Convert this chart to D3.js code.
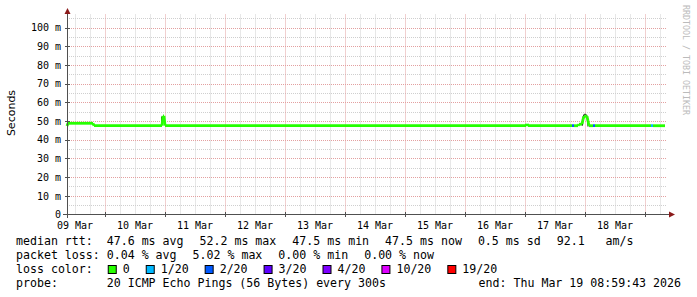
<!DOCTYPE html>
<html>
<head>
<meta charset="utf-8">
<script src="https://cdn.jsdelivr.net/npm/d3@7/dist/d3.min.js"></script>
<style>
body { margin: 0; background: #fff; }
svg { display: block; }
text { font-family: "DejaVu Sans Mono", monospace; fill: #000; }
</style>
</head>
<body>
<svg width="697" height="297"></svg>
<script>
// median rtt (ms), breakpoints, times UTC
var rttTimes = [
  "2026-03-09 09:00", "2026-03-09 09:24", "2026-03-09 19:24", "2026-03-09 19:48",
  "2026-03-10 23:00", "2026-03-10 23:24", "2026-03-10 23:48", "2026-03-11 00:12",
  "2026-03-17 00:36", "2026-03-17 01:00", "2026-03-17 01:24",
  "2026-03-17 19:00", "2026-03-17 19:24", "2026-03-17 19:48",
  "2026-03-17 21:24", "2026-03-17 21:48", "2026-03-17 23:00", "2026-03-17 23:24",
  "2026-03-17 23:48", "2026-03-18 00:36", "2026-03-18 01:00", "2026-03-18 01:24",
  "2026-03-18 01:48", "2026-03-18 03:24", "2026-03-18 03:48", "2026-03-18 04:12",
  "2026-03-19 02:36", "2026-03-19 03:00", "2026-03-19 03:24", "2026-03-19 08:12"
];
var rttValues = [
  47.4, 48.8, 48.8, 47.5,
  47.5, 52.8, 52.8, 47.5,
  47.5, 48.4, 47.5,
  47.5, 47.5, 47.5,
  47.5, 48.3, 48.3, 51.0,
  52.5, 52.8, 52.5, 50.0,
  47.5, 47.5, 47.5, 47.5,
  47.5, 47.5, 47.5, 47.5
];
// lost pings out of 20 for each breakpoint
var rttLoss = [
  0, 0, 0, 0,
  0, 0, 0, 0,
  0, 0, 0,
  0, 2, 0,
  0, 0, 0, 0,
  0, 0, 0, 0,
  0, 0, 2, 0,
  0, 1, 0, 0
];

// dark smoke outline around the two spikes (null = gap)
var smokeTimes = [
  "2026-03-10 22:50", "2026-03-10 22:50", null,
  "2026-03-17 23:10", "2026-03-17 23:24", "2026-03-17 23:48",
  "2026-03-18 00:36", "2026-03-18 01:00", "2026-03-18 01:24"
];
var smokeValues = [
  47.5, 52.4, null,
  47.5, 52.2, 53.6,
  53.6, 52.6, 47.0
];

var yTicks = [0, 10, 20, 30, 40, 50, 60, 70, 80, 90, 100];
var dayLabels = ["2026-03-09", "2026-03-10", "2026-03-11", "2026-03-12", "2026-03-13",
  "2026-03-14", "2026-03-15", "2026-03-16", "2026-03-17", "2026-03-18"];

var rttStats = ["47.6 ms avg", "52.2 ms max", "47.5 ms min", "47.5 ms now", "0.5 ms sd", "92.1   am/s"];
var lossStats = ["0.04 % avg", "5.02 % max", "0.00 % min", "0.00 % now"];
var lossLabels = ["0", "1/20", "2/20", "3/20", "4/20", "10/20", "19/20"];
var lossColors = ["#26ff00", "#00b8ff", "#0059ff", "#5e00ff", "#7e00ff", "#dd00ff", "#ff0000"];
var lossSteps = [1, 2, 3, 4, 10, 19];

var parseT = d3.utcParse("%Y-%m-%d %H:%M");
var parseD = d3.utcParse("%Y-%m-%d");
var startT = new Date(Date.UTC(2026, 2, 9, 8, 59, 43));
var endT = new Date(Date.UTC(2026, 2, 19, 8, 59, 43));

var margin = {left: 67, top: 14.5, right: 30, bottom: 214.5};

var x = d3.scaleUtc().domain([startT, endT]).range([margin.left, margin.left + 600]);
var y = d3.scaleLinear().domain([0, 107]).range([margin.bottom, margin.top]);
var lossColor = d3.scaleThreshold().domain(lossSteps).range(lossColors);

var svg = d3.select('svg');

// grid
var minorX = d3.utcHour.every(6).range(startT, endT).filter(function(d) { return d.getUTCHours() != 0; });
var majorX = d3.utcDay.range(startT, endT);
var minorY = d3.range(5, 107, 10);

var grid = svg.append('g').attr('fill', 'none').attr('stroke-width', 1).attr('stroke-dasharray', '1,1');
grid.selectAll('.vmin').data(minorX).enter().append('line')
  .attr('x1', function(d) { return Math.round(x(d)) + 0.5; })
  .attr('x2', function(d) { return Math.round(x(d)) + 0.5; })
  .attr('y1', margin.top).attr('y2', margin.bottom)
  .attr('stroke', '#cfcfcf');
grid.selectAll('.hmin').data(minorY).enter().append('line')
  .attr('x1', margin.left).attr('x2', margin.left + 600)
  .attr('y1', function(d) { return Math.round(y(d)) + 0.5; })
  .attr('y2', function(d) { return Math.round(y(d)) + 0.5; })
  .attr('stroke', '#cfcfcf');
grid.selectAll('.vmaj').data(majorX).enter().append('line')
  .attr('x1', function(d) { return Math.round(x(d)) + 0.5; })
  .attr('x2', function(d) { return Math.round(x(d)) + 0.5; })
  .attr('y1', margin.top).attr('y2', margin.bottom)
  .attr('stroke', '#e3a0a0');
grid.selectAll('.hmaj').data(yTicks.slice(1)).enter().append('line')
  .attr('x1', margin.left).attr('x2', margin.left + 600)
  .attr('y1', function(d) { return Math.round(y(d)) + 0.5; })
  .attr('y2', function(d) { return Math.round(y(d)) + 0.5; })
  .attr('stroke', '#e3a0a0');

// smoke outline
var smokeLine = d3.line()
  .defined(function(d) { return d[0] != null; })
  .x(function(d) { return x(parseT(d[0])); })
  .y(function(d) { return y(d[1]); });
svg.append('path')
  .datum(smokeTimes.map(function(t, i) { return [t, smokeValues[i]]; }))
  .attr('d', smokeLine)
  .attr('fill', 'none').attr('stroke', '#222').attr('stroke-width', 1);

// median line, coloured by loss
var pts = rttTimes.map(function(t, i) { return {t: parseT(t), v: rttValues[i], loss: rttLoss[i]}; });
var segLine = d3.line().x(function(d) { return x(d.t); }).y(function(d) { return y(d.v); });
for (var i = 1; i < pts.length; i++) {
  svg.append('path')
    .attr('d', segLine([pts[i - 1], pts[i]]))
    .attr('fill', 'none')
    .attr('stroke', lossColor(Math.max(pts[i].loss, pts[i - 1].loss)))
    .attr('stroke-width', 2.8)
    .attr('stroke-linecap', 'butt');
}

// axes
var axis = svg.append('g').attr('stroke', '#505050').attr('stroke-width', 1);
axis.append('line').attr('x1', 63).attr('x2', 670).attr('y1', 214.5).attr('y2', 214.5);
axis.append('line').attr('x1', 67.5).attr('x2', 67.5).attr('y1', 10).attr('y2', 218);
axis.selectAll('.xt').data(majorX).enter().append('line')
  .attr('x1', function(d) { return Math.round(x(d)) + 0.5; })
  .attr('x2', function(d) { return Math.round(x(d)) + 0.5; })
  .attr('y1', 212).attr('y2', 217);
axis.selectAll('.yt').data(yTicks.slice(1)).enter().append('line')
  .attr('x1', 65).attr('x2', 70)
  .attr('y1', function(d) { return Math.round(y(d)) + 0.5; })
  .attr('y2', function(d) { return Math.round(y(d)) + 0.5; });

svg.append('path').attr('d', 'M67.5,8L64.5,14L70.5,14Z').attr('fill', '#8b1a1a');
svg.append('path').attr('d', 'M675,214.5L669,211.5L669,217.5Z').attr('fill', '#8b1a1a');

var yAxis = d3.axisLeft(y).tickValues(yTicks).tickSize(0).tickPadding(0)
  .tickFormat(function(d) { return d == 0 ? '0' : d + ' m'; });
var gy = svg.append('g').attr('transform', 'translate(61,0)').call(yAxis);
gy.select('.domain').remove();
gy.selectAll('text').attr('font-family', '"DejaVu Sans Mono", monospace').attr('font-size', 10).attr('fill', '#000');

var noon = dayLabels.map(function(d) { return d3.utcHour.offset(parseD(d), 12); });
var xAxis = d3.axisBottom(x).tickValues(noon).tickSize(0).tickPadding(7)
  .tickFormat(d3.utcFormat('%d %b'));
var gx = svg.append('g').attr('transform', 'translate(0,214.5)').call(xAxis);
gx.select('.domain').remove();
gx.selectAll('text').attr('font-family', '"DejaVu Sans Mono", monospace').attr('font-size', 10).attr('fill', '#000');

// titles
svg.append('text')
  .attr('transform', 'translate(15,113) rotate(-90)')
  .attr('text-anchor', 'middle')
  .style('font-family', '"DejaVu Sans", sans-serif')
  .style('font-size', '11px')
  .text('Seconds');

svg.append('text')
  .attr('transform', 'translate(683,5) rotate(90)')
  .style('font-size', '8.3px')
  .style('fill', '#bbb')
  .text('RRDTOOL / TOBI OETIKER');

// legend
var lg = svg.append('g').style('font-size', '11.6px').attr('xml:space', 'preserve');
var gap = 16;

function row(items, yb) {
  var xpos = 16;
  items.forEach(function(s) {
    var t = lg.append('text').attr('x', xpos).attr('y', yb).style('white-space', 'pre').text(s);
    xpos += t.node().getComputedTextLength() + gap;
  });
}
row(['median rtt:  ' + rttStats[0]].concat(rttStats.slice(1)), 245);
row(['packet loss: ' + lossStats[0]].concat(lossStats.slice(1)), 259);

var lc = lg.append('text').attr('x', 16).attr('y', 273).style('white-space', 'pre').text('loss color:  ');
var bx = 16 + lc.node().getComputedTextLength() + 1;
lossLabels.forEach(function(l, i) {
  lg.append('rect').attr('x', bx + 0.5).attr('y', 265.5).attr('width', 8).attr('height', 8)
    .attr('fill', lossColors[i]).attr('stroke', '#000').attr('stroke-width', 1);
  var t = lg.append('text').attr('x', bx + 15).attr('y', 273).text(l);
  bx = bx + 15 + t.node().getComputedTextLength() + gap;
});

lg.append('text').attr('x', 16).attr('y', 287).style('white-space', 'pre')
  .text('probe:       20 ICMP Echo Pings (56 Bytes) every 300s');
lg.append('text').attr('x', 681).attr('y', 287).attr('text-anchor', 'end')
  .text('end: Thu Mar 19 08:59:43 2026');
</script>
</body>
</html>
